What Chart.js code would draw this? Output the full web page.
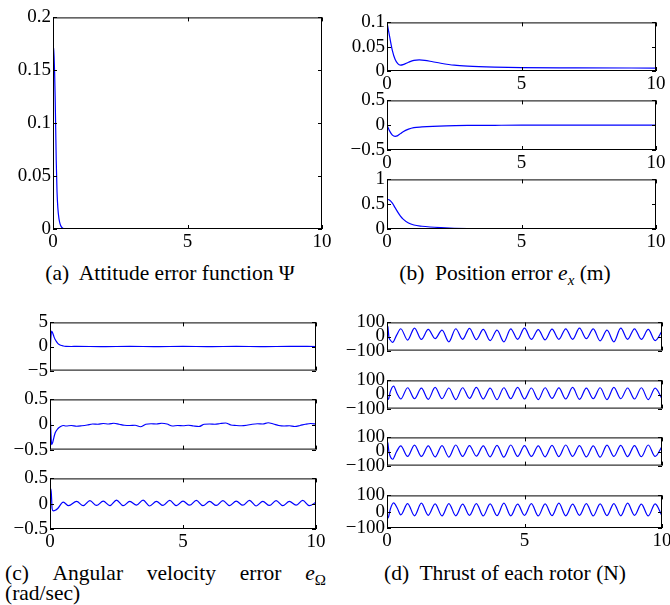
<!DOCTYPE html>
<html>
<head>
<meta charset="utf-8">
<script src="https://cdn.jsdelivr.net/npm/chart.js@4/dist/chart.umd.min.js"></script>
<style>
  body { margin: 0; background: #fff; width: 670px; height: 605px; overflow: hidden; position: relative; font-family: 'Liberation Serif', 'Times New Roman', Times, serif; }
  canvas { position: absolute; }
  .cap { position: absolute; font-size: 21.5px; color: #000; white-space: nowrap; line-height: 22px; }
  .mid { transform: translateX(-50%); }
  .cap i { font-style: italic; }
  .cap sub { font-size: 15px; vertical-align: -5px; line-height: 0; }
  #capC { left: 5px; width: 321px; top: 562px; display: flex; justify-content: space-between; }
</style>
</head>
<body>
<div class="cap mid" style="left:170px; top:262px;">(a)&nbsp; Attitude error function Ψ</div>
<div class="cap mid" style="left:505px; top:262px;">(b)&nbsp; Position error <i>e</i><sub><i>x</i></sub> (m)</div>
<div class="cap" id="capC"><span>(c)</span><span>Angular</span><span>velocity</span><span>error</span><span><i>e</i><sub>Ω</sub></span></div>
<div class="cap" style="left:5px; top:582px;">(rad/sec)</div>
<div class="cap mid" style="left:505px; top:562px;">(d)&nbsp; Thrust of each rotor (N)</div>

<script>
// (a) attitude error function
const tPsi = [0, 0.02, 0.04, 0.06, 0.08, 0.1, 0.12, 0.15, 0.18, 0.22, 0.26, 0.3, 0.35, 0.45, 0.6, 1, 10];
const psi = [0.172, 0.171, 0.163, 0.148, 0.125, 0.095, 0.065, 0.035, 0.02, 0.01, 0.005, 0.0025, 0.001, 0.0002, 0, 0, 0];

// (b) position error
const tEx1 = [0, 0.1, 0.2, 0.3, 0.4, 0.5, 0.6, 0.8, 1.0, 1.2, 1.4, 1.7, 2, 2.5, 3, 4, 5, 7, 10];
const ex1 = [0.1, 0.07, 0.042, 0.024, 0.015, 0.012, 0.013, 0.018, 0.022, 0.023, 0.022, 0.019, 0.016, 0.012, 0.01, 0.008, 0.007, 0.0065, 0.006];
const tEx2 = [0, 0.1, 0.2, 0.3, 0.4, 0.5, 0.6, 0.8, 1, 1.3, 1.7, 2.2, 3, 4, 5, 10];
const ex2 = [0, -0.12, -0.2, -0.225, -0.21, -0.17, -0.13, -0.08, -0.05, -0.035, -0.022, -0.012, -0.005, -0.002, 0, 0];
const tEx3 = [0, 0.1, 0.2, 0.3, 0.4, 0.5, 0.6, 0.8, 1, 1.3, 1.6, 2, 2.5, 3, 4, 5, 10];
const ex3 = [0.6, 0.58, 0.52, 0.43, 0.34, 0.26, 0.2, 0.12, 0.08, 0.055, 0.04, 0.027, 0.015, 0.008, 0.003, 0.001, 0];

// (c) angular velocity error
const tW1 = [0, 0.03, 0.06, 0.1, 0.15, 0.2, 0.25, 0.3, 0.4, 0.5, 0.6, 0.8, 1, 2, 3, 4, 5, 6, 7, 8, 9, 10];
const eW1 = [-2.3, 1.5, 3.2, 2.8, 2.0, 1.4, 0.95, 0.6, 0.25, 0.1, 0.03, 0, 0.03, -0.03, 0.03, -0.03, 0.03, -0.03, 0.03, -0.03, 0.03, 0];
const tW2 = [0, 0.03, 0.06, 0.1, 0.15, 0.2, 0.3, 0.4, 0.5,
  0.6, 0.8, 1.0, 1.2, 1.4, 1.6, 1.8, 2.0, 2.2, 2.4, 2.6, 2.8, 3.0, 3.2, 3.4, 3.6, 3.8, 4.0, 4.2, 4.4, 4.6, 4.8,
  5.0, 5.2, 5.4, 5.6, 5.8, 6.0, 6.2, 6.4, 6.6, 6.8, 7.0, 7.2, 7.4, 7.6, 7.8, 8.0, 8.2, 8.4, 8.6, 8.8, 9.0, 9.2, 9.4, 9.6, 9.8, 10];
const eW2 = [0.32, -0.1, -0.4, -0.36, -0.25, -0.16, -0.08, -0.04, -0.02,
  -0.03, -0.02, -0.035, -0.025, -0.01, 0.01, 0.005, 0.02, 0.01, 0.025, 0.005, -0.015, -0.02, -0.015, -0.045, 0.005, 0.015, 0.01, 0.025, 0.01, -0.03, -0.02,
  -0.025, -0.015, -0.03, -0.04, 0.005, 0.01, 0.005, 0.02, 0.03, -0.01, -0.02, -0.025, -0.015, 0.005, 0.015, 0.01, 0.035, 0.01, -0.02, -0.03, -0.025, -0.04, -0.02, 0.005, 0.02, 0.01];
const tW3 = [0, 0.04, 0.08, 0.12, 0.2, 0.28, 0.5, 0.7,
  1, 1.25, 1.5, 1.75, 2, 2.25, 2.5, 2.75, 3, 3.25, 3.5, 3.75, 4, 4.25, 4.5, 4.75, 5,
  5.25, 5.5, 5.75, 6, 6.25, 6.5, 6.75, 7, 7.25, 7.5, 7.75, 8, 8.25, 8.5, 8.75, 9, 9.25, 9.5, 9.75, 10];
const eW3 = [0.26, 0.29, -0.1, -0.14, -0.13, -0.1, 0.03, -0.04,
  0.045, -0.04, 0.06, -0.035, 0.05, -0.04, 0.07, -0.04, 0.045, -0.03, 0.07, -0.045, 0.045, -0.035, 0.065, -0.04, 0.05,
  -0.03, 0.065, -0.04, 0.045, -0.035, 0.06, -0.04, 0.05, -0.03, 0.065, -0.045, 0.045, -0.035, 0.06, -0.04, 0.045, -0.03, 0.065, -0.04, 0.03];

// (d) rotor thrust
const tF13 = [0, 0.03, 0.07, 0.12, 0.2, 0.35, 0.5,
  0.75, 1, 1.25, 1.5, 1.75, 2, 2.25, 2.5, 2.75, 3, 3.25, 3.5, 3.75, 4, 4.25, 4.5, 4.75, 5,
  5.25, 5.5, 5.75, 6, 6.25, 6.5, 6.75, 7, 7.25, 7.5, 7.75, 8, 8.25, 8.5, 8.75, 9, 9.25, 9.5, 9.75, 10];
const tF24 = [0, 0.03, 0.06, 0.12, 0.24, 0.37, 0.5,
  0.75, 1, 1.25, 1.5, 1.75, 2, 2.25, 2.5, 2.75, 3, 3.25, 3.5, 3.75, 4, 4.25, 4.5, 4.75, 5,
  5.25, 5.5, 5.75, 6, 6.25, 6.5, 6.75, 7, 7.25, 7.5, 7.75, 8, 8.25, 8.5, 8.75, 9, 9.25, 9.5, 9.75, 10];
const f1 = [75, 70, -5, -25, -42, 10, 55,
  -25, 60, -20, 50, -15, 45, -38, 55, -20, 58, -22, 50, -29, 45, -38, 54, -20, 59,
  -20, 49, -24, 52, -20, 54, -20, 59, -15, 54, -31, 45, -38, 59, -20, 54, -20, 50, -29, 38];
const f2 = [0, -35, -30, 20, 60, 5, -32,
  48, -30, 45, -34, 50, -30, 46, -36, 48, -28, 50, -32, 45, -36, 48, -30, 50, -32,
  46, -36, 48, -28, 47, -32, 50, -34, 45, -30, 48, -36, 50, -30, 46, -32, 48, -36, 45, -30];
const f3 = [70, 60, 0, -35, -55, 0, 40,
  -35, 45, -35, 40, -38, 42, -40, 46, -35, 42, -33, 40, -38, 44, -40, 46, -35, 42,
  -35, 40, -38, 44, -36, 46, -34, 42, -38, 40, -40, 45, -35, 44, -36, 42, -37, 46, -35, 35];
const f4 = [-5, -40, -30, 15, 54, 23, -19,
  50, -25, 52, -22, 48, -26, 50, -25, 46, -22, 50, -26, 48, -24, 52, -25, 47, -22,
  50, -26, 48, -24, 52, -25, 46, -22, 50, -26, 48, -24, 50, -25, 52, -22, 47, -26, 48, -25];

const xTicks = [0, 5, 10];

// box around the plot with inward tick marks on all four sides (matlab look)
const boxTicks = {
  id: 'boxTicks',
  afterDraw(chart) {
    const { ctx, chartArea: a, scales } = chart;
    ctx.save();
    ctx.strokeStyle = '#000';
    ctx.lineWidth = 1;
    ctx.strokeRect(a.left + 0.5, a.top + 0.5, a.right - a.left - 1, a.bottom - a.top - 1);
    ctx.beginPath();
    scales.x.ticks.forEach(t => {
      const px = Math.round(scales.x.getPixelForValue(t.value)) + 0.5;
      ctx.moveTo(px, a.bottom); ctx.lineTo(px, a.bottom - 4);
      ctx.moveTo(px, a.top); ctx.lineTo(px, a.top + 4);
    });
    scales.y.ticks.forEach(t => {
      const py = Math.round(scales.y.getPixelForValue(t.value)) + 0.5;
      ctx.moveTo(a.left, py); ctx.lineTo(a.left + 4, py);
      ctx.moveTo(a.right, py); ctx.lineTo(a.right - 4, py);
    });
    ctx.stroke();
    ctx.restore();
  }
};

const fmt = v => String(v).replace('-', '\u2212');
const tickFont = { family: "'Liberation Serif', 'Times New Roman', serif", size: 19 };

function makePanel(rect, xs, ys, yMin, yMax, yTicks, showX) {
  const [L, T, R, B] = rect;
  const padL = 60, padT = 13, padR = 14, padB = showX ? 26 : 13;
  const cv = document.createElement('canvas');
  const w = R - L + padL + padR, h = B - T + padT + padB;
  cv.width = w; cv.height = h;
  cv.style.left = (L - padL) + 'px';
  cv.style.top = (T - padT) + 'px';
  document.body.appendChild(cv);

  new Chart(cv.getContext('2d'), {
    type: 'line',
    data: {
      datasets: [{
        data: xs.map((x, i) => ({ x: x, y: ys[i] })),
        borderColor: '#0000ff',
        borderWidth: 1.2,
        pointRadius: 0,
        cubicInterpolationMode: 'monotone',
        fill: false
      }]
    },
    options: {
      responsive: false,
      animation: false,
      devicePixelRatio: 1,
      layout: { padding: { top: padT, right: padR, left: 0, bottom: 0 } },
      plugins: { legend: { display: false }, tooltip: { enabled: false } },
      scales: {
        x: {
          type: 'linear', min: 0, max: 10,
          grid: { display: false, drawTicks: false }, border: { display: false },
          afterBuildTicks: s => { s.ticks = xTicks.map(v => ({ value: v })); },
          afterFit: s => { s.height = padB; },
          ticks: { display: showX, autoSkip: false, maxRotation: 0, padding: 2, color: '#000', font: tickFont, callback: fmt }
        },
        y: {
          min: yMin, max: yMax,
          grid: { display: false, drawTicks: false }, border: { display: false },
          afterBuildTicks: s => { s.ticks = yTicks.map(v => ({ value: v })); },
          afterFit: s => { s.width = padL; },
          ticks: { autoSkip: false, padding: 2, color: '#000', font: tickFont, callback: fmt }
        }
      }
    },
    plugins: [boxTicks]
  });
}

makePanel([53, 17, 322, 229], tPsi, psi, 0, 0.2, [0, 0.05, 0.1, 0.15, 0.2], true);

makePanel([387, 22, 656, 71], tEx1, ex1, 0, 0.1, [0, 0.05, 0.1], true);
makePanel([387, 100, 656, 150], tEx2, ex2, -0.5, 0.5, [-0.5, 0, 0.5], true);
makePanel([387, 179, 656, 229], tEx3, ex3, 0, 1, [0, 0.5, 1], true);

makePanel([50, 322, 316, 371], tW1, eW1, -5, 5, [-5, 0, 5], false);
makePanel([50, 399, 316, 450], tW2, eW2, -0.5, 0.5, [-0.5, 0, 0.5], false);
makePanel([50, 478, 316, 529], tW3, eW3, -0.5, 0.5, [-0.5, 0, 0.5], true);

makePanel([387, 322, 662, 351], tF13, f1, -100, 100, [-100, 0, 100], false);
makePanel([387, 380, 662, 409], tF24, f2, -100, 100, [-100, 0, 100], false);
makePanel([387, 437, 662, 466], tF13, f3, -100, 100, [-100, 0, 100], false);
makePanel([387, 495, 662, 528], tF24, f4, -100, 100, [-100, 0, 100], true);
</script>
</body>
</html>
